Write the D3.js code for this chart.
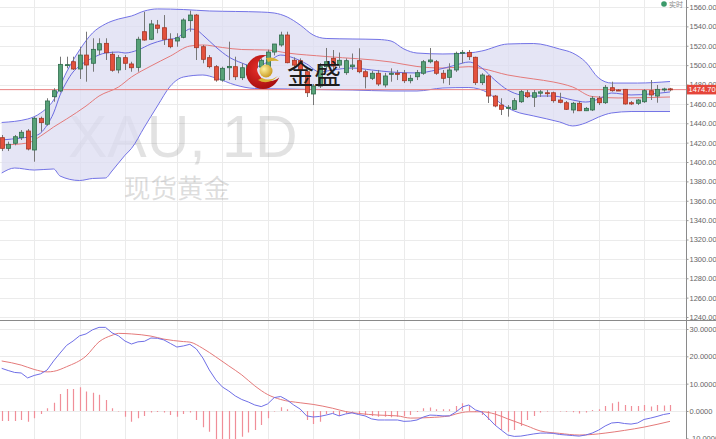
<!DOCTYPE html>
<html><head><meta charset="utf-8">
<script src="https://cdn.jsdelivr.net/npm/d3@7"></script>
<style>html,body{margin:0;padding:0;background:#fff;overflow:hidden}svg{display:block;font-family:"Liberation Sans",Arial,sans-serif}</style>
</head><body><svg id="c" width="716" height="439"></svg>
<script>
// ---- data (XAU daily) ----
const opens=[1425.1,1414.1,1419.3,1425.1,1432.0,1412.4,1445.1,1439.0,1467.4,1473.3,1500.1,1503.5,1496.0,1510.4,1501.9,1515.6,1522.5,1511.2,1495.0,1507.7,1501.2,1497.7,1534.5,1526.7,1541.4,1538.6,1526.7,1524.9,1528.7,1545.9,1551.7,1519.0,1507.7,1498.4,1484.6,1497.3,1498.4,1487.0,1490,1503,1498,1497,1513.5,1520.8,1531.1,1505,1504.6,1493.2,1470.2,1478.4,1498.4,1507,1500,1492.2,1498.4,1504.6,1493.2,1486.4,1491.6,1479.5,1490.5,1491.6,1491.6,1483.9,1488,1491.6,1503.5,1503.5,1491.6,1487.4,1495,1512.2,1513.2,1508.1,1481.9,1488.8,1468.1,1458.8,1455.4,1454.4,1462.2,1471.5,1466.8,1471,1471.5,1471.5,1464,1461.2,1453.7,1460.6,1452.9,1453.7,1465.8,1461.2,1476.7,1474.3,1475.0,1461.2,1460.6,1462.2,1473.6,1468.1,1475,1475.5];
const highs=[1427.9,1421.0,1427.9,1433,1434,1446.8,1446.8,1465.8,1476.1,1508.7,1508.7,1508.7,1519.0,1534.5,1527.7,1527.7,1527.7,1513.9,1510.4,1510.4,1503.5,1529.3,1555.1,1546.6,1546.6,1551.7,1532.9,1532.9,1548.3,1556.2,1552.8,1520.8,1510.4,1500.1,1498.4,1524.2,1508.7,1501.9,1502,1506,1507,1516,1519,1534.5,1534.5,1508,1507,1495,1480.5,1502,1517.7,1515.6,1513,1507,1512,1517.4,1495,1494,1495,1492,1496.7,1495,1495,1490,1495,1505.3,1517.7,1505.3,1495,1501.9,1513.9,1515.6,1515.6,1508.7,1491.6,1489.8,1469.2,1465.8,1458.8,1466,1474.3,1474.3,1474.3,1474.3,1474.3,1472.6,1471.5,1463,1462,1463,1456.8,1468.1,1468.1,1479.5,1482.9,1475.3,1475.4,1463,1465,1475.3,1484.6,1479.5,1476.7,1476.5];
const lows=[1411.3,1411.3,1417.2,1422.7,1412,1400.3,1431.3,1437.5,1462.2,1471.9,1496.7,1495,1485.7,1482.9,1493.2,1510.4,1505.3,1493.2,1491.6,1495,1493.2,1493.2,1525.2,1525.9,1532.9,1520.8,1517.4,1519.0,1527.7,1534.5,1505.3,1501.9,1496.7,1482.9,1482.9,1484.6,1484.6,1484.6,1486,1494,1494,1494,1510,1519.0,1501.9,1498,1493,1467.1,1458.8,1476.4,1495,1495,1497,1490,1495,1491.6,1476,1484.6,1478.4,1477,1482.9,1484.6,1481.5,1481.2,1484.6,1490,1501.9,1490,1481.2,1479.5,1493,1501.9,1505.3,1479.5,1479.5,1460.9,1456.5,1448.5,1446.8,1453.7,1461,1466,1456.8,1467.1,1467.1,1461.2,1460.6,1453.7,1450.3,1452.6,1452.6,1452.6,1458.8,1459.9,1472.6,1473.3,1459.2,1458.8,1458.8,1461,1464,1461.2,1472.6,1473];
const closes=[1414.1,1418.3,1426.1,1430.7,1413.4,1445.1,1440.6,1463.0,1473.6,1500.8,1500.5,1496.0,1510.4,1500.1,1516.3,1522.1,1512.8,1494.7,1507.7,1501.9,1497.3,1526.7,1525.9,1542.5,1538.0,1526.7,1519.0,1528.3,1546.6,1551.7,1518.0,1506.0,1498.4,1484.6,1496.7,1498.7,1488.0,1497.3,1500,1497,1505,1513.5,1521.8,1531.1,1502.5,1500,1495.0,1471.5,1478.4,1498.4,1503.5,1499,1505,1504.6,1500.1,1493.2,1488.0,1491.6,1480.5,1488.8,1491.6,1490.5,1483.9,1486.4,1492.2,1503.5,1505.3,1491.6,1486.4,1495,1512.2,1513.2,1508.7,1481.9,1489.8,1468.1,1457.8,1454.4,1456.5,1463.3,1472.6,1467.4,1471.5,1472.4,1470.9,1463.3,1461.6,1454.4,1460.6,1452.9,1455.4,1465.8,1461.2,1477.1,1473.6,1474.0,1459.9,1459.9,1464,1473.6,1469.2,1475.0,1475.4,1474.7];
const lastPrice=1474.70;
// Bollinger upper / middle / lower and fast MA (read at sample candles)
const uIdx=[0,4,6,8,10,12,14,16,18,20,22,24,28,32,36,40,42,44,46,48,50,54,58,60,62,64,68,72,74,78,82,86,88,90,92,94,98,103];
const uVal=[1440.8,1444.4,1450.6,1464.0,1492.9,1515.6,1533.2,1542.5,1547.6,1550.7,1555.9,1558.0,1557.4,1555.9,1555.4,1554.8,1553.8,1549.7,1541.4,1531.1,1527.5,1527.0,1526.5,1524.9,1516.6,1512.5,1511.5,1512.5,1514.6,1521.8,1522.3,1516.6,1512.5,1503.2,1486.7,1481.5,1481.5,1483.1];
const lIdx=[0,2,5,8,9,12,14,16,17,19,20,22,24,26,28,31,33,36,39,44,48,54,60,64,68,72,75,77,79,82,86,88,90,92,94,97,103];
const lVal=[1388.6,1393.8,1391.7,1392.8,1385.5,1380.9,1383.0,1383.5,1390.7,1407.0,1414.0,1436.1,1457.8,1478.4,1487.7,1489.8,1486.7,1479.5,1475.9,1475.4,1474.8,1474.3,1473.3,1473.3,1476.4,1476.9,1471.2,1459.9,1452.6,1447.5,1441.3,1437.2,1440.3,1446.4,1450.6,1452.1,1452.1];
const mIdx=[0,4,6,8,10,13,15,18,20,23,26,29,31,34,37,41,44,50,60,64,68,72,74,78,82,85,88,91,95,103];
const mVal=[1417.5,1419.6,1426.8,1436.1,1444.4,1457.8,1468.1,1477.4,1487.7,1499.1,1509.4,1519.7,1520.8,1518.2,1516.1,1515.6,1512.5,1508.9,1503.2,1498.6,1497.0,1498.4,1496.5,1489.8,1485.7,1482.6,1477.4,1467.6,1466.1,1467.1];
const fIdx=[0,3,5,6,7,8,9,10,11,12,14,16,18,19,21,23,25,27,28,29,30,31,33,35,37,39,41,43,45,47,49,51,54,57,60,64,67,70,72,74,76,78,80,82,85,88,90,92,94,97,100,103];
const fVal=[1422.7,1424.8,1426.8,1429.9,1438.2,1450.6,1469.2,1482.6,1492.9,1499.1,1507.4,1512.5,1513.5,1512.5,1515.6,1521.8,1525.9,1528.0,1533.2,1537.3,1536.3,1531.1,1518.7,1508.4,1502.2,1498.1,1503.2,1510.4,1507.4,1501.2,1492.9,1495.0,1497.0,1495.0,1492.9,1491.9,1495.0,1500.1,1503.2,1497.0,1484.6,1474.3,1469.2,1468.1,1468.1,1464.0,1461.9,1465.0,1471.2,1469.2,1470.2,1472.3];
// MACD
const macd=[15.6,14.8,14.1,13.9,12.1,13.0,13.6,15.0,18.3,21.2,24.0,25.6,27.5,28.2,29.7,30.6,30.6,28.6,27.5,25.6,24.5,25.3,25.5,26.7,26.6,26.0,24.7,23.4,23.8,24.4,22.7,19.4,15.0,11.4,8.8,7.3,5.5,4.2,3.3,2.2,1.6,2.6,4.9,5.3,4.0,2.2,0.7,-1.8,-2.2,-2.0,-1.5,-0.9,-1.8,-1.1,-0.7,-1.3,-1.8,-2.9,-3.3,-3.3,-3.3,-3.3,-3.8,-3.7,-3.3,-2.2,-1.5,-1.6,-1.8,-1.8,-0.4,1.5,2.2,0.4,-0.4,-2.6,-5.1,-7.0,-8.8,-9.3,-9.2,-8.8,-8.4,-8.1,-8.1,-8.2,-8.6,-8.8,-9.0,-9.2,-8.8,-8.1,-7.0,-5.5,-4.4,-4.2,-4.6,-4.8,-4.4,-3.1,-2.6,-2.0,-1.3,-0.9];
const sigIdx=[0,3,5,7,8,10,13,15,17,18,20,23,25,28,29,31,33,35,37,39,41,43,46,48,51,53,55,58,61,63,66,69,70,72,74,76,78,81,83,86,89,91,93,96,99,101,103];
const sigVal=[18.3,16.8,15.2,14.3,14.5,16.2,20.1,25.3,27.7,28.4,28.2,27.4,26.3,25.4,25.2,22.9,19.8,16.5,13.2,9.2,6.0,4.2,3.0,2.4,1.0,-0.2,-0.9,-1.5,-1.8,-2.6,-2.4,-1.8,-1.1,-0.3,-0.3,-1.1,-2.9,-5.5,-7.3,-8.2,-8.8,-8.6,-8.1,-7.1,-5.9,-4.9,-3.8];
const hist=[-3.7,-3.7,-3.7,-3.3,-3.9,-2.7,-1.1,1.0,3.0,6.2,8.0,8.0,8.7,7.1,6.7,5.9,4.0,1.0,-0.2,-2.1,-3.9,-2.7,-1.8,-0.6,-0.4,-0.6,-1.5,-2.1,-1.1,-0.6,-3.3,-6.0,-7.6,-10.5,-11,-11,-10.3,-9.4,-7.9,-7.0,-5.1,-2.7,-0.2,1.4,0.6,0.1,-0.3,-3.3,-4.8,-3.9,-1.1,-0.9,-1.8,-0.9,-0.2,-1.1,-1.5,-1.8,-2.1,-2.1,-2.3,-2.1,-1.8,-1.5,-0.4,1.0,1.3,0.6,0.6,0.6,1.8,2.8,1.8,-0.4,-1.5,-3.3,-5.1,-7.0,-7.6,-7.0,-5.5,-3.3,-1.8,-0.6,-0.2,-0.1,-0.2,-0.3,-0.5,-0.9,-0.6,0.4,0.6,1.8,2.8,3.4,2.2,1.8,1.8,2.2,1.6,2.2,2.0,2.2];
// axes / grid
const priceTicks=[1240,1260,1280,1300,1320,1340,1360,1380,1400,1420,1440,1460,1480,1500,1520,1540,1560];
const macdTicks=[30,20,10,0,-10];
const gridIdx=[5,12,19,27,34,41,48,55,62,71,78,85,92,99];
const titleText="XAU, 1D", subText="现货黄金", brandText="金盛", legendText="实时";

// ---- drawing ----
const W=716,H=439,AX=686,SEP=320.5,FS=7.5;
const svg=d3.select('#c');
const x=d3.scaleLinear().domain([0,103]).range([1.7,670]);
const y=d3.scaleLinear().domain([1240,1560]).range([317,7]);
const ym=d3.scaleLinear().domain([-10,30]).range([438.3,329]);
svg.append('rect').attr('width',W).attr('height',H).attr('fill','#fff');
const defs=svg.append('defs');
defs.append('clipPath').attr('id','cp').append('rect').attr('x',0).attr('y',0).attr('width',AX).attr('height',SEP);
defs.append('clipPath').attr('id','cm').append('rect').attr('x',0).attr('y',SEP+0.5).attr('width',AX).attr('height',H-SEP);

const grid=svg.append('g').attr('stroke','#ebebeb').attr('stroke-width',1).attr('shape-rendering','crispEdges');
grid.selectAll('.h').data(priceTicks).join('line').attr('x1',0).attr('x2',AX).attr('y1',d=>Math.round(y(d))+0.5).attr('y2',d=>Math.round(y(d))+0.5);
grid.selectAll('.hm').data(macdTicks.filter(d=>d>-10)).join('line').attr('x1',0).attr('x2',AX).attr('y1',d=>Math.round(ym(d))+0.5).attr('y2',d=>Math.round(ym(d))+0.5);
grid.selectAll('.v').data(gridIdx).join('line').attr('x1',d=>Math.round(x(d))+0.5).attr('x2',d=>Math.round(x(d))+0.5).attr('y1',0).attr('y2',H);

// watermark
svg.append('text').attr('x',68).attr('y',157).attr('font-size',59).attr('fill','#7a7a7a').attr('fill-opacity',0.22).text(titleText);
svg.append('text').attr('x',124).attr('y',198).attr('font-size',26.5).attr('font-family','"Noto Sans CJK SC",sans-serif').attr('fill','#7a7a7a').attr('fill-opacity',0.25).text(subText);

const P=svg.append('g').attr('clip-path','url(#cp)');
const pts=(I,V)=>I.map((d,k)=>[x(d),y(V[k])]);
const ln=d3.line().curve(d3.curveMonotoneX);
const up=pts(uIdx,uVal), lo=pts(lIdx,lVal);
const areaPath=ln(up)+'L'+ln(lo.slice().reverse()).slice(1)+'Z';
P.append('path').attr('d',areaPath).attr('fill','#dcdcf2').attr('fill-opacity',0.75);
P.append('path').attr('d',ln(up)).attr('fill','none').attr('stroke','#7373e6').attr('stroke-width',1);
P.append('path').attr('d',ln(lo)).attr('fill','none').attr('stroke','#7373e6').attr('stroke-width',1);
P.append('path').attr('d',ln(pts(mIdx,mVal))).attr('fill','none').attr('stroke','#e47a7a').attr('stroke-width',1);
P.append('path').attr('d',ln(pts(fIdx,fVal))).attr('fill','none').attr('stroke','#6a6ae0').attr('stroke-width',1);
// current price line
P.append('line').attr('x1',0).attr('x2',AX).attr('y1',y(lastPrice)).attr('y2',y(lastPrice)).attr('stroke','#e88080').attr('stroke-width',1);

// candles
const cg=P.append('g');
const idx=d3.range(opens.length);
cg.selectAll('.w').data(idx).join('line')
  .attr('x1',i=>Math.round(x(i))+0.5).attr('x2',i=>Math.round(x(i))+0.5)
  .attr('y1',i=>y(highs[i])).attr('y2',i=>y(lows[i]))
  .attr('stroke','#777').attr('stroke-width',1);
cg.selectAll('.b').data(idx).join('rect')
  .attr('x',i=>Math.round(x(i))-1.5).attr('width',4)
  .attr('y',i=>y(Math.max(opens[i],closes[i])))
  .attr('height',i=>Math.max(1,Math.abs(y(opens[i])-y(closes[i]))))
  .attr('fill',i=>closes[i]>=opens[i]?'#57a177':'#e3513d')
  .attr('stroke',i=>closes[i]>=opens[i]?'#2f6d4c':'#a63625').attr('stroke-width',0.8);

// logo
const lg=svg.append('g');
const mk=defs.append('mask').attr('id','mk');
mk.append('rect').attr('x',230).attr('y',40).attr('width',80).attr('height',70).attr('fill','#fff');
mk.append('circle').attr('cx',270).attr('cy',68).attr('r',13).attr('fill','#000');
const rg=defs.append('radialGradient').attr('id','rg').attr('cx','40%').attr('cy','40%').attr('r','65%');
rg.append('stop').attr('offset','0%').attr('stop-color','#e8302a');
rg.append('stop').attr('offset','100%').attr('stop-color','#a50d0d');
lg.append('circle').attr('cx',263).attr('cy',72).attr('r',17).attr('fill','url(#rg)').attr('mask','url(#mk)');
lg.append('path').attr('d','M258,80 Q268,86 278,76 Q270,82 262,78Z').attr('fill','#d9b233');
lg.append('path').attr('d','M266,58 Q274,56 279,61 Q273,60 268,62Z').attr('fill','#d9b233');
const gg=defs.append('radialGradient').attr('id','gg').attr('cx','35%').attr('cy','35%').attr('r','70%');
gg.append('stop').attr('offset','0%').attr('stop-color','#fff3a0');
gg.append('stop').attr('offset','100%').attr('stop-color','#c8981e');
lg.append('circle').attr('cx',266).attr('cy',71).attr('r',6.5).attr('fill','url(#gg)');
svg.append('text').attr('x',287).attr('y',84).attr('font-size',27).attr('font-family','"Noto Sans CJK SC",sans-serif').attr('font-weight',400).attr('fill','#1d1d1d').text(brandText);

// MACD panel
const M=svg.append('g').attr('clip-path','url(#cm)');
M.selectAll('.hb').data(idx).join('line')
  .attr('x1',i=>Math.round(x(i))+0.5).attr('x2',i=>Math.round(x(i))+0.5)
  .attr('y1',ym(0)).attr('y2',i=>ym(hist[i]))
  .attr('stroke','#f08e98').attr('stroke-width',1.2);
M.append('path').attr('d',ln(sigIdx.map((d,k)=>[x(d),ym(sigVal[k])]))).attr('fill','none').attr('stroke','#e47a7a').attr('stroke-width',1);
M.append('path').attr('d',d3.line()(idx.map(i=>[x(i),ym(macd[i])]))).attr('fill','none').attr('stroke','#6f6fe6').attr('stroke-width',1);

// separator and axis
svg.append('line').attr('x1',0).attr('x2',W).attr('y1',SEP).attr('y2',SEP).attr('stroke','#8a8a8a').attr('stroke-width',1);
svg.append('line').attr('x1',AX+0.5).attr('x2',AX+0.5).attr('y1',0).attr('y2',H).attr('stroke','#8a8a8a').attr('stroke-width',1);
const ya=svg.append('g').attr('transform',`translate(${AX+0.5},0)`).call(d3.axisRight(y).tickValues(priceTicks).tickFormat(d=>d.toFixed(2)).tickSize(2).tickPadding(1));
const ma=svg.append('g').attr('transform',`translate(${AX+0.5},0)`).call(d3.axisRight(ym).tickValues(macdTicks).tickFormat(d=>d.toFixed(4)).tickSize(2).tickPadding(1));
[ya,ma].forEach(g=>{g.select('.domain').remove();g.selectAll('line').attr('stroke','#999');g.selectAll('text').attr('fill','#666').attr('font-size',FS).attr('font-family','"Liberation Sans",Arial,sans-serif');});

// last price tag
svg.append('rect').attr('x',AX+1).attr('y',y(lastPrice)-4.8).attr('width',W-AX-1).attr('height',9.6).attr('fill','#e5453a');
svg.append('text').attr('x',AX+2.5).attr('y',y(lastPrice)+2.8).attr('font-size',FS).attr('fill','#fff').text(lastPrice.toFixed(2));

// legend
svg.append('circle').attr('cx',664).attr('cy',4).attr('r',2.8).attr('fill','#3b9a6a');
svg.append('text').attr('x',669).attr('y',7).attr('font-size',7).attr('font-family','"Noto Sans CJK SC",sans-serif').attr('fill','#888').text(legendText);
</script></body></html>
